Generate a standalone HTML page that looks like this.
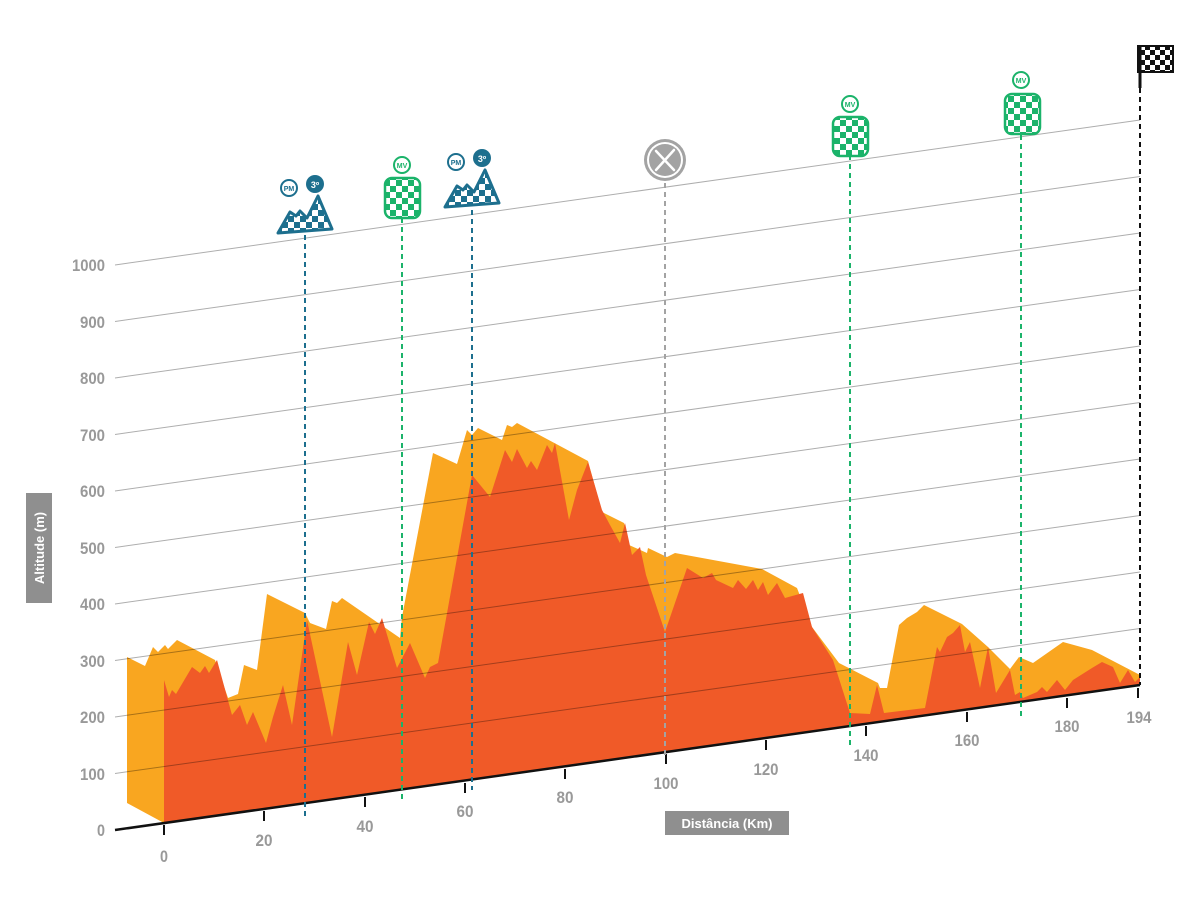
<!DOCTYPE html>
<html><head><meta charset="utf-8"><style>
html,body{margin:0;padding:0;background:#fff;}
svg{display:block;}
.l{font-family:"Liberation Sans",sans-serif;font-weight:bold;font-size:17px;fill:#999;}
</style></head><body>
<svg width="1200" height="910" viewBox="0 0 1200 910" xmlns="http://www.w3.org/2000/svg">
<defs>
<pattern id="chk" width="12" height="12" patternUnits="userSpaceOnUse"><rect width="12" height="12" fill="#fff"/><rect width="6" height="6" fill="#1bb36a"/><rect x="6" y="6" width="6" height="6" fill="#1bb36a"/></pattern>
<pattern id="chkp" width="12" height="12" patternUnits="userSpaceOnUse"><rect width="12" height="12" fill="#fff"/><rect width="6" height="6" fill="#1d6f8e"/><rect x="6" y="6" width="6" height="6" fill="#1d6f8e"/></pattern>
<pattern id="chkb" width="10" height="10" patternUnits="userSpaceOnUse"><rect width="10" height="10" fill="#fff"/><rect width="5" height="5" fill="#111"/><rect x="5" y="5" width="5" height="5" fill="#111"/></pattern>
</defs>
<polygon fill="#F9A620" points="127,657 145,666 153,647 158,652 165,645 168,649 177,640 215,660 228,698 238,694 244,665 257,670 267,594 305,613 310,623 326,629 332,601 337,603 342,598 400,638 402,617 433,453 457,464 467,430 472,435 478,428 502,440 507,425 512,427 517,423 588,461 602,512 624,523 629,545 647,553 648,548 667,557 675,553 762,569 797,588 812,627 839,663 878,683 880,688 887,688 899,625 907,618 917,612 924,605 962,624 988,647 1010,669 1019,657 1033,663 1063,642 1092,650 1140,675 1140,685 164,823 127,803"/>
<polygon fill="#F05A28" points="164,823 164,680 169,697 172,690 176,694 192,667 200,673 205,666 209,673 217,660 232,715 240,705 247,725 253,712 266,743 270,728 273,717 283,685 292,725 307,620 332,737 348,642 357,675 369,622 375,634 382,618 397,668 410,643 425,678 430,667 438,663 472,475 490,497 505,450 512,462 517,449 527,468 531,461 537,470 547,445 552,453 555,443 569,520 577,490 588,462 602,510 610,525 620,543 625,523 632,555 640,547 646,575 665,632 687,568 703,578 712,573 716,580 733,588 738,580 746,589 753,580 758,590 763,582 768,595 777,583 785,598 803,593 812,627 833,660 850,713 870,714 877,685 884,713 925,708 937,647 940,652 947,637 953,633 960,625 965,652 970,642 980,688 988,647 996,693 1010,670 1015,695 1020,692 1023,698 1037,692 1042,687 1047,692 1057,680 1065,690 1073,680 1092,668 1102,662 1113,667 1120,683 1128,670 1135,682 1140,677 1140,685"/>
<g stroke="rgba(0,0,0,0.32)" stroke-width="1">
<line x1="115" y1="773.5" x2="1140" y2="628.5"/>
<line x1="115" y1="717" x2="1140" y2="572"/>
<line x1="115" y1="660.5" x2="1140" y2="515.5"/>
<line x1="115" y1="604" x2="1140" y2="459"/>
<line x1="115" y1="547.5" x2="1140" y2="402.5"/>
<line x1="115" y1="491" x2="1140" y2="346"/>
<line x1="115" y1="434.5" x2="1140" y2="289.5"/>
<line x1="115" y1="378" x2="1140" y2="233"/>
<line x1="115" y1="321.5" x2="1140" y2="176.5"/>
<line x1="115" y1="265" x2="1140" y2="120"/>
</g>
<line x1="115" y1="830" x2="1140" y2="685" stroke="#111" stroke-width="2.5"/>
<g stroke="#111" stroke-width="2">
<line x1="164" y1="825" x2="164" y2="835"/>
<line x1="264" y1="811" x2="264" y2="821"/>
<line x1="365" y1="797" x2="365" y2="807"/>
<line x1="465" y1="783" x2="465" y2="793"/>
<line x1="565" y1="769" x2="565" y2="779"/>
<line x1="666" y1="754" x2="666" y2="764"/>
<line x1="766" y1="740" x2="766" y2="750"/>
<line x1="866" y1="726" x2="866" y2="736"/>
<line x1="967" y1="712" x2="967" y2="722"/>
<line x1="1067" y1="698" x2="1067" y2="708"/>
<line x1="1138" y1="688" x2="1138" y2="698"/>
</g>
<g class="l" text-anchor="middle" lengthAdjust="spacingAndGlyphs">
<text x="164" y="862" textLength="8" lengthAdjust="spacingAndGlyphs">0</text>
<text x="264" y="846" textLength="17" lengthAdjust="spacingAndGlyphs">20</text>
<text x="365" y="832" textLength="17" lengthAdjust="spacingAndGlyphs">40</text>
<text x="465" y="817" textLength="17" lengthAdjust="spacingAndGlyphs">60</text>
<text x="565" y="803" textLength="17" lengthAdjust="spacingAndGlyphs">80</text>
<text x="666" y="789" textLength="25" lengthAdjust="spacingAndGlyphs">100</text>
<text x="766" y="775" textLength="25" lengthAdjust="spacingAndGlyphs">120</text>
<text x="866" y="761" textLength="25" lengthAdjust="spacingAndGlyphs">140</text>
<text x="967" y="746" textLength="25" lengthAdjust="spacingAndGlyphs">160</text>
<text x="1067" y="732" textLength="25" lengthAdjust="spacingAndGlyphs">180</text>
<text x="1139" y="723" textLength="25" lengthAdjust="spacingAndGlyphs">194</text>
</g>
<g class="l" text-anchor="end">
<text x="105" y="836" textLength="8" lengthAdjust="spacingAndGlyphs">0</text>
<text x="105" y="780" textLength="25" lengthAdjust="spacingAndGlyphs">100</text>
<text x="105" y="723" textLength="25" lengthAdjust="spacingAndGlyphs">200</text>
<text x="105" y="667" textLength="25" lengthAdjust="spacingAndGlyphs">300</text>
<text x="105" y="610" textLength="25" lengthAdjust="spacingAndGlyphs">400</text>
<text x="105" y="554" textLength="25" lengthAdjust="spacingAndGlyphs">500</text>
<text x="105" y="497" textLength="25" lengthAdjust="spacingAndGlyphs">600</text>
<text x="105" y="441" textLength="25" lengthAdjust="spacingAndGlyphs">700</text>
<text x="105" y="384" textLength="25" lengthAdjust="spacingAndGlyphs">800</text>
<text x="105" y="328" textLength="25" lengthAdjust="spacingAndGlyphs">900</text>
<text x="105" y="271" textLength="33" lengthAdjust="spacingAndGlyphs">1000</text>
</g>
<rect x="26" y="493" width="26" height="110" fill="#8f8f8f"/>
<text transform="translate(44,548) rotate(-90)" text-anchor="middle" style="font-family:'Liberation Sans',sans-serif;font-weight:bold;font-size:13px;fill:#fff">Altitude (m)</text>
<rect x="665" y="811" width="124" height="24" fill="#8f8f8f"/>
<text x="727" y="828" text-anchor="middle" style="font-family:'Liberation Sans',sans-serif;font-weight:bold;font-size:13px;fill:#fff">Distância (Km)</text>
<g stroke-width="2" stroke-dasharray="5,4">
<line x1="305" y1="235" x2="305" y2="820" stroke="#1d6f8e"/>
<line x1="402" y1="218" x2="402" y2="803" stroke="#1bb36a"/>
<line x1="472" y1="210" x2="472" y2="790" stroke="#1d6f8e"/>
<line x1="665" y1="183" x2="665" y2="755" stroke="#a3a3a3"/>
<line x1="850" y1="155" x2="850" y2="745" stroke="#1bb36a"/>
<line x1="1021" y1="135" x2="1021" y2="718" stroke="#1bb36a"/>
<line x1="1140" y1="88" x2="1140" y2="685" stroke="#111"/>
</g>
<g>
<path d="M278,233 L290,212 L296,216 L300,211 L307,218 L318,196 L332,229 Z" fill="url(#chkp)" stroke="#1d6f8e" stroke-width="3" stroke-linejoin="round"/>
<circle cx="289" cy="188" r="8" fill="#fff" stroke="#1d6f8e" stroke-width="2"/>
<text x="289" y="191" text-anchor="middle" style="font-family:'Liberation Sans',sans-serif;font-weight:bold;font-size:7px;fill:#1d6f8e">PM</text>
<circle cx="315" cy="184" r="9" fill="#1d6f8e"/>
<text x="315" y="188" text-anchor="middle" style="font-family:'Liberation Sans',sans-serif;font-weight:bold;font-size:9px;fill:#fff">3º</text>
</g>
<g transform="translate(167,-26)">
<path d="M278,233 L290,212 L296,216 L300,211 L307,218 L318,196 L332,229 Z" fill="url(#chkp)" stroke="#1d6f8e" stroke-width="3" stroke-linejoin="round"/>
<circle cx="289" cy="188" r="8" fill="#fff" stroke="#1d6f8e" stroke-width="2"/>
<text x="289" y="191" text-anchor="middle" style="font-family:'Liberation Sans',sans-serif;font-weight:bold;font-size:7px;fill:#1d6f8e">PM</text>
<circle cx="315" cy="184" r="9" fill="#1d6f8e"/>
<text x="315" y="188" text-anchor="middle" style="font-family:'Liberation Sans',sans-serif;font-weight:bold;font-size:9px;fill:#fff">3º</text>
</g>
<g>
<circle cx="402" cy="165" r="8" fill="#fff" stroke="#1bb36a" stroke-width="2"/>
<text x="402" y="168" text-anchor="middle" style="font-family:'Liberation Sans',sans-serif;font-weight:bold;font-size:7px;fill:#1bb36a">MV</text>
<rect x="385" y="178" width="35" height="40" rx="7" fill="url(#chk)" stroke="#1bb36a" stroke-width="2.5"/>
</g>
<g>
<circle cx="850" cy="104" r="8" fill="#fff" stroke="#1bb36a" stroke-width="2"/>
<text x="850" y="107" text-anchor="middle" style="font-family:'Liberation Sans',sans-serif;font-weight:bold;font-size:7px;fill:#1bb36a">MV</text>
<rect x="833" y="117" width="35" height="39" rx="7" fill="url(#chk)" stroke="#1bb36a" stroke-width="2.5"/>
</g>
<g>
<circle cx="1021" cy="80" r="8" fill="#fff" stroke="#1bb36a" stroke-width="2"/>
<text x="1021" y="83" text-anchor="middle" style="font-family:'Liberation Sans',sans-serif;font-weight:bold;font-size:7px;fill:#1bb36a">MV</text>
<rect x="1005" y="94" width="35" height="40" rx="7" fill="url(#chk)" stroke="#1bb36a" stroke-width="2.5"/>
</g>
<circle cx="665" cy="160" r="21" fill="#a3a3a3"/>
<circle cx="665" cy="160" r="18" fill="#fff"/>
<circle cx="665" cy="160" r="16" fill="#a3a3a3"/>
<g stroke="#fff" stroke-width="2.5" stroke-linecap="round">
<line x1="656" y1="151" x2="674" y2="170"/>
<line x1="674" y1="150" x2="656" y2="170"/>
</g>
<rect x="1138" y="46" width="35" height="26" fill="url(#chkb)" stroke="#111" stroke-width="2"/>
<line x1="1140" y1="46" x2="1140" y2="88" stroke="#111" stroke-width="3"/>
</svg>
</body></html>
